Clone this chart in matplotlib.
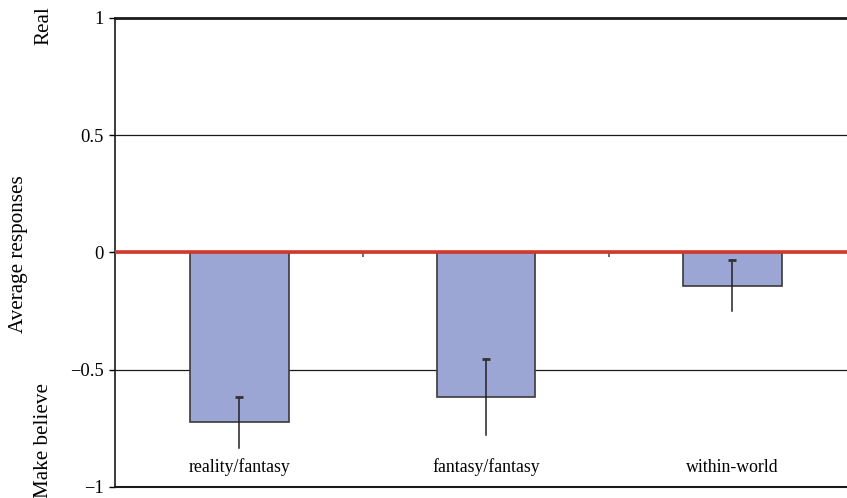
import matplotlib.pyplot as plt

categories = ["reality/fantasy", "fantasy/fantasy", "within-world"]
means = [-0.724, -0.617, -0.141]
errors = [0.109, 0.162, 0.109]
yticks = [-1, -0.5, 0, 0.5, 1]
ytick_labels = ["\u22121", "\u22120.5", "0", "0.5", "1"]

plt.rcParams['font.family'] = ['Liberation Serif', 'DejaVu Serif']

fig = plt.figure(figsize=(8.47, 4.98), dpi=100)
ax = fig.add_axes([0.1358, 0.0221, 0.8642, 0.9418])

x = list(range(len(categories)))

# gridlines at +/-0.5
for v in [0.5, -0.5]:
    ax.axhline(v, color='#1a1a1a', lw=0.9, zorder=1)

ax.bar(x, means, width=0.4, color='#9ba6d4', edgecolor='#3a3a3a', lw=1.2, zorder=2)

# error bars with a cap on the upper end only
for xi, m, e in zip(x, means, errors):
    ax.plot([xi, xi], [m - e, m + e], color='#222222', lw=1.1, zorder=3)
    ax.plot([xi], [m + e], marker='_', markersize=5.5, mew=2, color='#333333', zorder=3)

ax.axhline(0, color='#1a1a1a', lw=1.0, zorder=4)
ax.axhline(0.004, color='#d2382b', lw=2.6, zorder=5)

# category boundary tick marks on the zero line
ax.vlines([i + 0.5 for i in x[:-1]], -0.018, 0, color='#555555', lw=1.2, zorder=4)

for xi, c in zip(x, categories):
    ax.text(xi, -0.915, c, ha='center', va='center', fontsize=12.8)

ax.set_xlim(-0.505, 2.465)
ax.set_ylim(-1, 1)
ax.set_xticks([])
ax.set_yticks(yticks)
ax.set_yticklabels(ytick_labels, fontsize=13.3)
ax.tick_params(axis='y', length=4, width=1, direction='out', pad=4)

ax.spines['right'].set_visible(False)
ax.spines['top'].set_linewidth(2)
ax.spines['left'].set_linewidth(1.2)
ax.spines['bottom'].set_linewidth(1.5)
for s in ax.spines.values():
    s.set_color('#1a1a1a')

fig.text(18 / 847, 1 - 254 / 498, "Average responses", rotation=90, ha='center', va='center', fontsize=15.2)
fig.text(44 / 847, 1 - 26 / 498, "Real", rotation=90, ha='center', va='center', fontsize=15.2)
fig.text(44 / 847, 1 - 440 / 498, "Make believe", rotation=90, ha='center', va='center', fontsize=15.2)

fig.savefig("out.png", dpi=100)
